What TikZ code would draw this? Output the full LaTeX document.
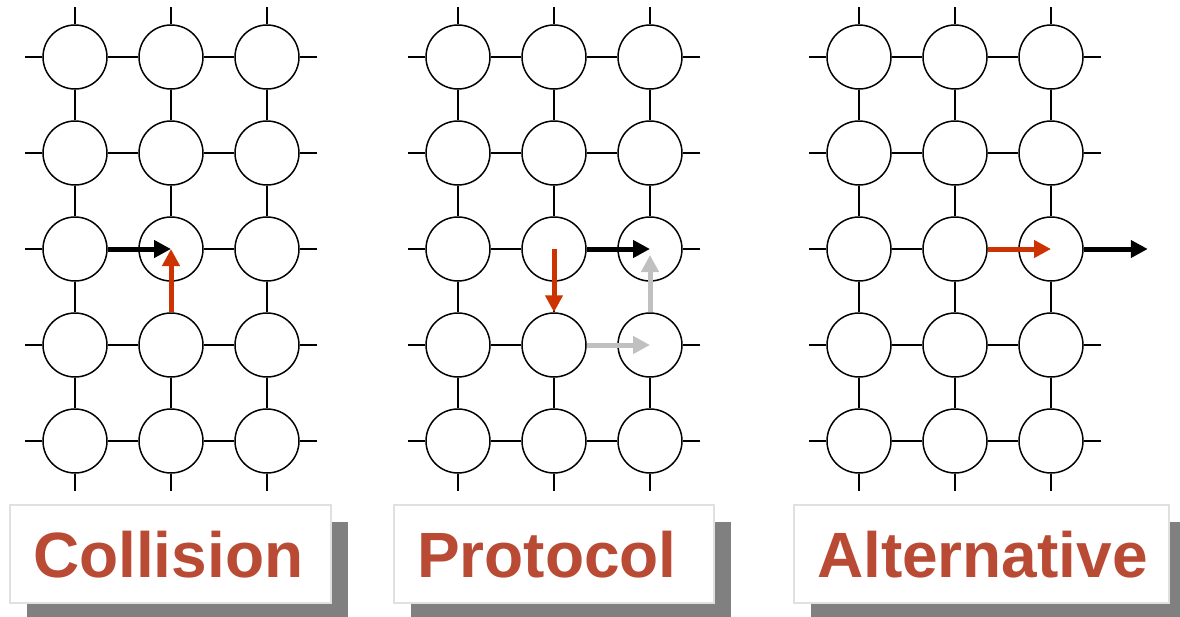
\documentclass[tikz,border=0pt]{standalone}
\usepackage{fontspec}
\setmainfont{Liberation Sans}
\usepackage{xcolor}
\definecolor{accent}{RGB}{204,51,0}
\definecolor{accent2}{RGB}{185,74,52}
\definecolor{detour}{RGB}{192,192,192}
\usetikzlibrary{arrows.meta,positioning,shadows}
\tikzset{
  router/.style={circle,draw,line width=1.5pt,minimum size=64pt,inner sep=0pt,fill=white},
  link/.style={line width=1.4pt},
  flow/.style={-{Triangle[length=17pt,width=17pt]},line width=5pt},
  tag/.style={draw=black!12,line width=1.5pt,fill=white,text=accent2,%
    font=\fontsize{64}{64}\selectfont\bfseries,minimum height=98pt,%
    text height=47pt,text depth=0pt,inner xsep=23pt,align=left,%
    drop shadow={shadow xshift=17pt,shadow yshift=-17pt,fill=gray,opacity=1}},
}

\begin{document}
\begin{tikzpicture}[x=1pt,y=-1pt]
\useasboundingbox[fill=white] (0,0) rectangle (1180,616);
% three 3x5 meshes
\foreach \g/\ox in {a/75,b/458,c/859}{
  \foreach \i in {1,2,3}
    \foreach \j in {1,...,5}
      \node[router] (\g\i\j) at ({\ox+96*(\i-1)},{57+96*(\j-1)}) {};
  \foreach \j in {1,...,5}{
    \draw[link] (\g1\j) -- (\g2\j);
    \draw[link] (\g2\j) -- (\g3\j);
    \draw[link] (\g1\j.west) -- +(-17,0);
    \draw[link] (\g3\j.east) -- +(17,0);
  }
  \foreach \i in {1,2,3}{
    \draw[link] (\g\i1) -- (\g\i2);
    \draw[link] (\g\i2) -- (\g\i3);
    \draw[link] (\g\i3) -- (\g\i4);
    \draw[link] (\g\i4) -- (\g\i5);
    \draw[link] (\g\i1.north) -- +(0,-17);
    \draw[link] (\g\i5.south) -- +(0,17);
  }
}
% collision
\draw[flow] (a13.east) -- (a23.center);
\draw[flow,accent] (a24.north) -- (a23.center);
% protocol
\draw[flow,accent] (b23.center) -- (b24.north);
\draw[flow] (b23.east) -- (b33.center);
\draw[flow,detour] (b24.east) -- (b34.center);
\draw[flow,detour,shorten >=6pt] (b34.north) -- (b33.center);
% alternative
\coordinate[right=64pt of c33.east] (cout);
\draw[flow,accent] (c23.east) -- (c33.center);
\draw[flow] (c33.east) -- (cout);
% captions
\node[tag,text width=275pt] (col) at (170.5,554) {Collision};
\node[tag,text width=274pt] (pro) at (554,554) {Protocol};
\node[tag,text width=329pt] (alt) at (981.5,554) {Alternative};
\end{tikzpicture}
\end{document}
